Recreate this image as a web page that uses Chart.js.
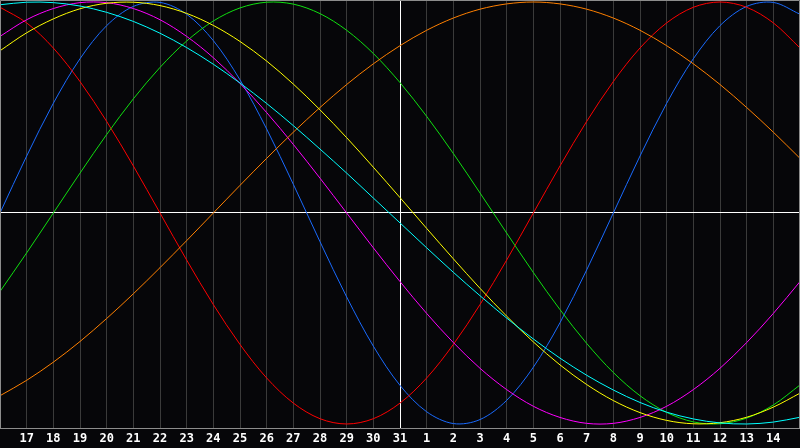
<!DOCTYPE html>
<html>
<head>
<meta charset="utf-8">
<script src="https://cdn.jsdelivr.net/npm/chart.js@4/dist/chart.umd.min.js"></script>
<style>
  html, body { margin: 0; padding: 0; background: #060609; }
  #wrap { width: 800px; height: 448px; }
</style>
</head>
<body>
<div id="wrap"><canvas id="bio" width="800" height="448"></canvas></div>
<script>
// days on the x axis (16th .. 31st, then 1st .. 15th)
const days = [16, 17, 18, 19, 20, 21, 22, 23, 24, 25, 26, 27, 28, 29, 30, 31,
              1, 2, 3, 4, 5, 6, 7, 8, 9, 10, 11, 12, 13, 14, 15];
const todayIndex = 15;

// cycle values in percent
const physical = [0, 27.0, 52.0, 73.1, 88.8, 97.9, 99.8, 94.2, 81.7, 63.1, 39.8, 13.6, -13.6, -39.8, -63.1, -81.7,
                  -94.2, -99.8, -97.9, -88.8, -73.1, -52.0, -27.0, 0, 27.0, 52.0, 73.1, 88.8, 97.9, 99.8, 94.2];
const emotional = [97.5, 90.1, 78.2, 62.3, 43.4, 22.3, 0, -22.3, -43.4, -62.3, -78.2, -90.1, -97.5, -100, -97.5, -90.1,
                   -78.2, -62.3, -43.4, -22.3, 0, 22.3, 43.4, 62.3, 78.2, 90.1, 97.5, 100, 97.5, 90.1, 78.2];
const intellectual = [-37.2, -18.9, 0, 18.9, 37.2, 54.1, 69.0, 81.5, 91.0, 97.2, 99.9, 99.0, 94.5, 86.6, 75.6, 61.8,
                      45.8, 28.2, 9.5, -9.5, -28.2, -45.8, -61.8, -75.6, -86.6, -94.5, -99.0, -99.9, -97.2, -91.0, -81.5];
const intuitive = [83.7, 91.6, 96.9, 99.7, 99.7, 96.9, 91.6, 83.7, 73.6, 61.4, 47.6, 32.5, 16.5, 0, -16.5, -32.5,
                   -47.6, -61.4, -73.6, -83.7, -91.6, -96.9, -99.7, -99.7, -96.9, -91.6, -83.7, -73.6, -61.4, -47.6, -32.5];
const aesthetic = [76.9, 85.4, 92.0, 96.8, 99.4, 99.9, 98.3, 94.6, 88.9, 81.3, 72.0, 61.1, 48.9, 35.7, 21.7, 7.3,
                   -7.3, -21.7, -35.7, -48.9, -61.1, -72.0, -81.3, -88.9, -94.6, -98.3, -99.9, -99.4, -96.8, -92.0, -85.4];
const awareness = [-86.6, -79.3, -70.7, -60.9, -50.0, -38.3, -25.9, -13.1, 0, 13.1, 25.9, 38.3, 50.0, 60.9, 70.7, 79.3,
                   86.6, 92.4, 96.6, 99.1, 100, 99.1, 96.6, 92.4, 86.6, 79.3, 70.7, 60.9, 50.0, 38.3, 25.9];
const spiritual = [98.7, 99.9, 99.7, 98.1, 95.1, 90.8, 85.2, 78.4, 70.5, 61.6, 51.9, 41.4, 30.3, 18.9, 7.1, -4.7,
                   -16.5, -28.1, -39.2, -49.8, -59.7, -68.8, -76.9, -83.9, -89.8, -94.4, -97.6, -99.5, -100, -99.1, -96.8];

const series = [
    { data: spiritual, color: '#00ffff' },
    { data: aesthetic, color: '#ffff00' },
    { data: awareness, color: '#ff8000' },
    { data: intuitive, color: '#ff00ff' },
    { data: intellectual, color: '#10e010' },
    { data: emotional, color: '#ff0000' },
    { data: physical, color: '#1a6bff' }
];

const yMin = -101.9;
const yMax = 100.95;

// frame around the plot area
const framePlugin = {
    id: 'frame',
    afterDraw(chart) {
        const a = chart.chartArea;
        const ctx = chart.ctx;
        ctx.save();
        ctx.strokeStyle = '#8c8c8c';
        ctx.lineWidth = 1;
        ctx.beginPath();
        ctx.moveTo(a.left + 0.5, a.bottom);
        ctx.lineTo(a.left + 0.5, a.top + 0.5);
        ctx.lineTo(a.right - 0.5, a.top + 0.5);
        ctx.lineTo(a.right - 0.5, a.bottom);
        ctx.stroke();
        ctx.restore();
    }
};

new Chart(document.getElementById('bio'), {
    type: 'line',
    data: {
        labels: days.map(String),
        datasets: series.map(s => ({
            data: s.data,
            borderColor: s.color,
            borderWidth: 1,
            pointRadius: 0,
            pointHoverRadius: 0,
            tension: 0.33,
            fill: false
        }))
    },
    options: {
        responsive: false,
        animation: false,
        devicePixelRatio: 1,
        layout: { autoPadding: false, padding: 0 },
        plugins: { legend: { display: false }, tooltip: { enabled: false } },
        scales: {
            x: {
                offset: false,
                afterFit: axis => { axis.paddingLeft = 0; axis.paddingRight = 0; axis.height = 20; },
                grid: {
                    drawTicks: false,
                    color: ctx => ctx.index === todayIndex ? '#ffffff' : '#3a3a3a',
                    lineWidth: 1
                },
                border: { color: '#8c8c8c' },
                ticks: {
                    autoSkip: false,
                    maxRotation: 0,
                    padding: 4,
                    color: '#ffffff',
                    font: { family: '"DejaVu Sans Mono", monospace', size: 12, weight: 'bold' },
                    callback: (v, i) => (i === 0 || i === days.length - 1) ? '' : days[i]
                }
            },
            y: {
                min: yMin,
                max: yMax,
                afterBuildTicks: axis => { axis.ticks = [{ value: 0 }]; },
                afterFit: axis => { axis.width = 0; },
                ticks: { display: false },
                grid: { drawTicks: false, color: '#ffffff', lineWidth: 1 },
                border: { display: false }
            }
        }
    },
    plugins: [framePlugin]
});
</script>
</body>
</html>
